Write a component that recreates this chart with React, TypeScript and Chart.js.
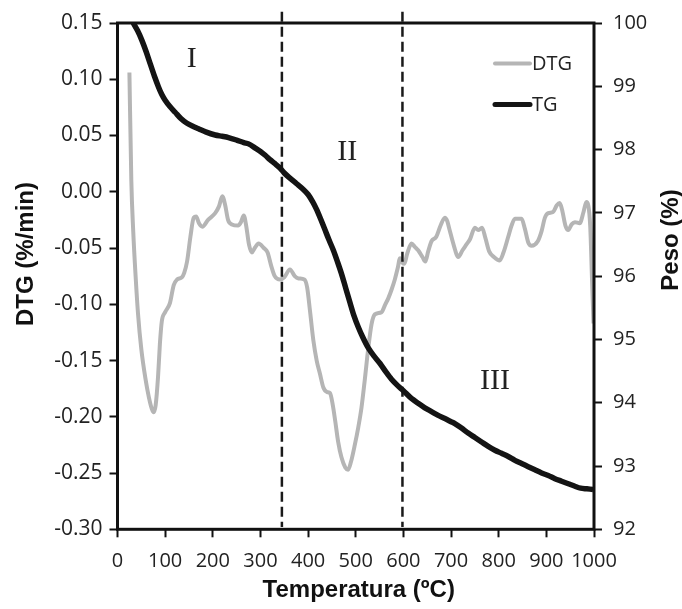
import React, { useEffect, useRef } from "react";
import { Chart, registerables } from "chart.js";

Chart.register(...registerables);

// ---- Data ----
const dtgTemp = [
  25, 29, 33, 38, 43, 50, 59, 66, 72, 76, 80, 85, 89, 93, 100, 110, 118, 125, 135, 140,
  146, 153, 160, 165, 171, 178, 190, 205, 213, 220, 226, 232, 240, 253, 259, 265, 270, 276, 282, 288,
  296, 307, 315, 322, 330, 341, 350, 362, 372, 380, 392, 398, 404, 411, 418, 425, 432, 440, 446, 452,
  457, 463, 470, 478, 484, 490, 498, 505, 512, 519, 526, 533, 540, 554, 562, 568, 576, 582, 588, 593,
  598, 602, 608, 617, 624, 631, 640, 646, 652, 659, 669, 678, 687, 692, 697, 706, 715, 724, 732, 740,
  750, 757, 765, 772, 780, 790, 802, 810, 820, 827, 834, 848, 855, 862, 869, 882, 890, 897, 904, 914,
  922, 928, 933, 940, 946, 953, 960, 970, 978, 984, 988, 992, 996, 999,
];
const dtgValue = [
  0.106, 0.01, -0.035, -0.075, -0.108, -0.14, -0.167, -0.183, -0.193, -0.196, -0.19, -0.165, -0.135, -0.115, -0.107, -0.099, -0.083, -0.078, -0.076, -0.072,
  -0.062, -0.04, -0.023, -0.022, -0.028, -0.031, -0.025, -0.019, -0.013, -0.004, -0.012, -0.025, -0.029, -0.03, -0.027, -0.021, -0.03, -0.047, -0.054, -0.05,
  -0.046, -0.05, -0.054, -0.065, -0.075, -0.078, -0.076, -0.069, -0.075, -0.077, -0.078, -0.085, -0.106, -0.132, -0.15, -0.162, -0.174, -0.178, -0.179, -0.19,
  -0.204, -0.222, -0.236, -0.245, -0.247, -0.24, -0.225, -0.21, -0.192, -0.167, -0.14, -0.118, -0.109, -0.107, -0.1, -0.095, -0.086, -0.078, -0.068, -0.059,
  -0.063, -0.064, -0.055, -0.046, -0.049, -0.052, -0.058, -0.062, -0.053, -0.044, -0.04, -0.03, -0.023, -0.026, -0.034, -0.048, -0.058, -0.052, -0.047, -0.042,
  -0.032, -0.034, -0.032, -0.041, -0.053, -0.058, -0.061, -0.054, -0.04, -0.03, -0.024, -0.024, -0.033, -0.045, -0.048, -0.044, -0.035, -0.023, -0.019, -0.018,
  -0.012, -0.01, -0.016, -0.03, -0.034, -0.029, -0.027, -0.028, -0.018, -0.009, -0.012, -0.03, -0.08, -0.117,
];

const tgTemp = [
  33, 42, 51, 60, 68, 77, 86, 93, 100, 110, 121, 133, 145, 158, 170, 185, 205, 220, 233, 250,
  265, 275, 290, 300, 310, 320, 330, 341, 350, 360, 376, 390, 400, 410, 418, 427, 435, 444, 453, 462,
  470, 479, 488, 496, 505, 515, 526, 538, 551, 563, 575, 588, 600, 615, 631, 645, 659, 673, 687, 700,
  708, 722, 736, 750, 764, 778, 792, 806, 820, 834, 848, 862, 876, 890, 904, 918, 932, 946, 960, 972,
  985, 998,
];
const tgValue = [
  100.0, 99.88, 99.73, 99.55, 99.37, 99.17, 98.99, 98.87, 98.78, 98.68, 98.59, 98.49, 98.42, 98.37, 98.33, 98.28, 98.23, 98.21, 98.19, 98.15,
  98.11, 98.09, 98.02, 97.97, 97.91, 97.84, 97.78, 97.71, 97.63, 97.56, 97.46, 97.37, 97.29, 97.17, 97.05, 96.89, 96.74, 96.57, 96.41, 96.22,
  96.04, 95.81, 95.58, 95.38, 95.2, 95.03, 94.87, 94.74, 94.62, 94.49, 94.37, 94.27, 94.19, 94.08, 93.99, 93.92, 93.86, 93.8, 93.75, 93.7,
  93.67, 93.6, 93.52, 93.45, 93.38, 93.31, 93.25, 93.2, 93.15, 93.09, 93.04, 92.99, 92.94, 92.89, 92.85, 92.8, 92.76, 92.72, 92.68, 92.65,
  92.64, 92.63,
];

const xTicks = [0, 100, 200, 300, 400, 500, 600, 700, 800, 900, 1000];
const dtgTicks = [0.15, 0.1, 0.05, 0, -0.05, -0.1, -0.15, -0.2, -0.25, -0.3];
const pesoTicks = [92, 93, 94, 95, 96, 97, 98, 99, 100];

const seriesNames = ["DTG", "TG"];
const seriesColors = ["#b5b5b5", "#141414"];

const stageLabels = ["I", "II", "III"];
const stageTemp = [156, 482, 792];
const stageDtg = [0.118, 0.035, -0.168];

const dividerTemp = [345, 598];
const dividerDtgRange = [0.16, -0.298];

const axisTitles = { x: "Temperatura (ºC)", y: "DTG (%/min)", y1: "Peso (%)" };

const TICK_FONT = { family: "'Open Sans', sans-serif", size: 20 };
const LEFT_TICK_FONT = { family: "'Open Sans', sans-serif", size: 21 };

const overlayPlugin = {
  id: "overlay",
  afterDatasetsDraw(chart: any) {
    const { ctx, chartArea, scales } = chart;
    ctx.save();
    ctx.strokeStyle = "#111";
    ctx.lineWidth = 3;
    ctx.lineJoin = "miter";
    ctx.strokeRect(chartArea.left, chartArea.top, chartArea.right - chartArea.left, chartArea.bottom - chartArea.top);
    ctx.fillStyle = "#222";
    ctx.font = "30px 'Liberation Serif', serif";
    ctx.textAlign = "center";
    ctx.textBaseline = "middle";
    stageLabels.forEach((s, i) => {
      ctx.fillText(s, scales.x.getPixelForValue(stageTemp[i]), scales.y.getPixelForValue(stageDtg[i]));
    });
    ctx.restore();
  },
  afterDraw(chart: any) {
    const { ctx, chartArea } = chart;
    ctx.save();
    const lx0 = chartArea.right - 99;
    const lx1 = chartArea.right - 64;
    const rows = [chartArea.top + 40.5, chartArea.top + 81.5];
    ctx.font = "20px 'Open Sans', sans-serif";
    ctx.textAlign = "left";
    ctx.textBaseline = "middle";
    seriesNames.forEach((n, i) => {
      ctx.strokeStyle = seriesColors[i];
      ctx.lineWidth = i === 0 ? 4 : 5;
      ctx.lineCap = "round";
      ctx.beginPath();
      ctx.moveTo(lx0, rows[i]);
      ctx.lineTo(lx1, rows[i]);
      ctx.stroke();
      ctx.fillStyle = "#222";
      ctx.fillText(n, lx1 + 2, rows[i] + 1);
    });
    ctx.fillStyle = "#111";
    ctx.font = "bold 24px 'Liberation Sans', Arial, sans-serif";
    ctx.textAlign = "center";
    ctx.textBaseline = "alphabetic";
    ctx.fillText(axisTitles.x, (chartArea.left + chartArea.right) / 2 + 3, 597);
    ctx.save();
    ctx.translate(32.6, 254);
    ctx.rotate(-Math.PI / 2);
    ctx.fillText(axisTitles.y, 0, 0);
    ctx.restore();
    ctx.save();
    ctx.translate(677.5, 240);
    ctx.rotate(-Math.PI / 2);
    ctx.fillText(axisTitles.y1, 0, 0);
    ctx.restore();
    ctx.restore();
  },
};

export default function App() {
  const ref = useRef<HTMLCanvasElement | null>(null);

  useEffect(() => {
    if (!ref.current) return;
    const dtgData = dtgTemp.map((t, i) => ({ x: t, y: dtgValue[i] }));
    const tgData = tgTemp.map((t, i) => ({ x: t, y: tgValue[i] }));
    const dividerSets = dividerTemp.map((t) => ({
      type: "line" as const,
      label: "divider",
      data: dividerDtgRange.map((v) => ({ x: t, y: v })),
      yAxisID: "y",
      borderColor: "#1a1a1a",
      borderWidth: 2.5,
      borderDash: [10, 5],
      pointRadius: 0,
      clip: false as any,
      order: 1,
    }));

    const gridCommon = {
      display: true,
      drawOnChartArea: false,
      drawTicks: true,
      tickLength: 8,
      tickWidth: 2,
      tickColor: "#111",
    };

    const chart = new Chart(ref.current, {
      type: "line",
      data: {
        datasets: [
          {
            label: seriesNames[1],
            data: tgData,
            yAxisID: "y1",
            borderColor: seriesColors[1],
            borderWidth: 5.5,
            pointRadius: 0,
            tension: 0.3,
            order: 0,
          },
          ...dividerSets,
          {
            label: seriesNames[0],
            data: dtgData,
            yAxisID: "y",
            borderColor: seriesColors[0],
            borderWidth: 4,
            pointRadius: 0,
            cubicInterpolationMode: "monotone",
            order: 2,
          },
        ],
      },
      options: {
        responsive: false,
        animation: false,
        devicePixelRatio: 1,
        layout: { padding: { top: 22.5, left: 0, right: 0, bottom: 0 } },
        plugins: { legend: { display: false }, tooltip: { enabled: false } },
        scales: {
          x: {
            type: "linear",
            min: 0,
            max: 1000,
            afterBuildTicks: (s: any) => {
              s.ticks = xTicks.map((v) => ({ value: v }));
            },
            afterFit: (s: any) => {
              s.height = 79.7;
            },
            ticks: {
              autoSkip: false,
              maxRotation: 0,
              padding: 12,
              color: "#222",
              font: TICK_FONT,
              callback: (v: any) => String(v),
            },
            grid: gridCommon,
            border: { display: false },
          },
          y: {
            type: "linear",
            position: "left",
            min: -0.3,
            max: 0.15,
            afterBuildTicks: (s: any) => {
              s.ticks = dtgTicks.map((v) => ({ value: v }));
            },
            afterFit: (s: any) => {
              s.width = 117.5;
            },
            ticks: {
              autoSkip: false,
              padding: 7,
              color: "#222",
              font: LEFT_TICK_FONT,
              callback: (v: any) => (Math.round(Number(v) * 100) / 100).toFixed(2),
            },
            grid: gridCommon,
            border: { display: false },
          },
          y1: {
            type: "linear",
            position: "right",
            min: 92,
            max: 100,
            afterBuildTicks: (s: any) => {
              s.ticks = pesoTicks.map((v) => ({ value: v }));
            },
            afterFit: (s: any) => {
              s.width = 88;
            },
            ticks: {
              autoSkip: false,
              padding: 11,
              color: "#222",
              font: TICK_FONT,
              callback: (v: any) => String(v),
            },
            grid: gridCommon,
            border: { display: false },
          },
        },
      },
      plugins: [overlayPlugin],
    } as any);

    return () => chart.destroy();
  }, []);

  return (
    <div style={{ position: "fixed", left: 0, top: 0, width: 682, height: 609, background: "#fff" }}>
      <canvas ref={ref} width={682} height={609} style={{ width: 682, height: 609, display: "block" }} />
    </div>
  );
}
